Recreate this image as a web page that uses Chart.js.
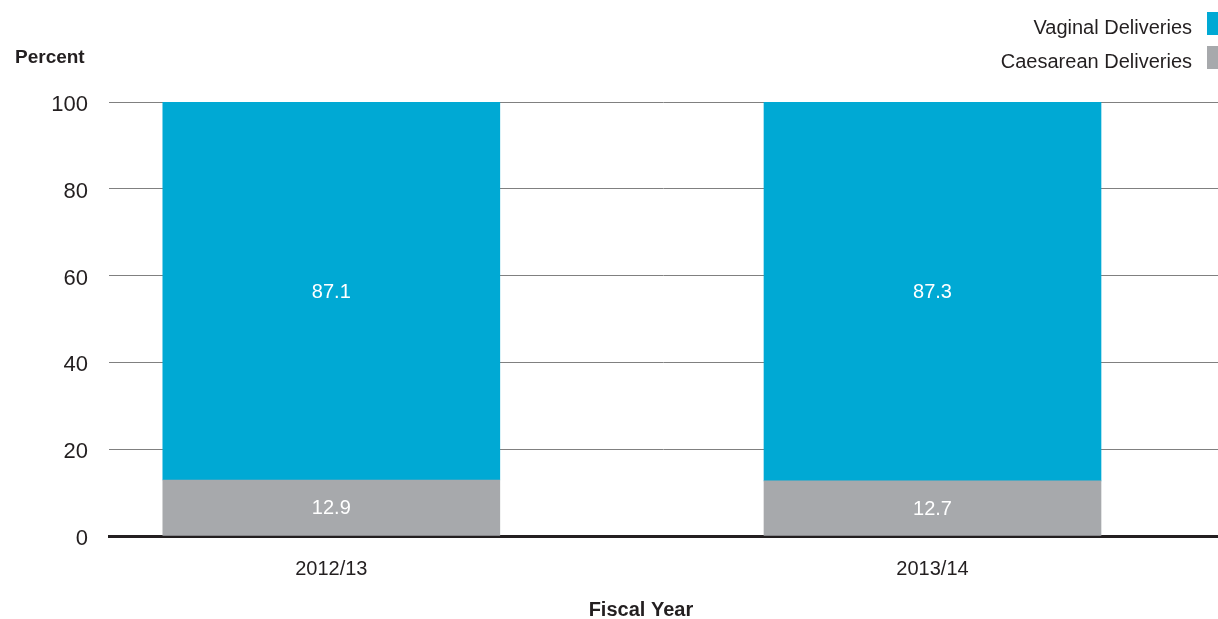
<!DOCTYPE html>
<html>
<head>
<meta charset="utf-8">
<script src="https://cdn.jsdelivr.net/npm/chart.js@4/dist/chart.umd.min.js"></script>
<style>
  html, body { margin: 0; padding: 0; background: #fff; }
  #wrap { width: 1218px; height: 619px; position: relative; }
</style>
</head>
<body>
<div id="wrap"><canvas id="c"></canvas></div>
<script>
// ---- data ----
const categories = ['2012/13', '2013/14'];
const caesarean = [12.9, 12.7];
const vaginal = [87.1, 87.3];
const yTicks = [0, 20, 40, 60, 80, 100];
const seriesNames = ['Vaginal Deliveries', 'Caesarean Deliveries'];
const yTitle = 'Percent';
const xTitle = 'Fiscal Year';

const FONT = "'Liberation Sans', Arial, Helvetica, sans-serif";
const BLUE = '#00a9d4';
const GREY = '#a7a9ac';

const toPoints = arr => arr.map((v, i) => ({ x: i, y: v }));

const labelPlugin = {
  id: 'segLabels',
  afterDatasetsDraw(chart) {
    const ctx = chart.ctx;
    ctx.save();
    ctx.fillStyle = '#ffffff';
    ctx.font = '20px ' + FONT;
    ctx.textAlign = 'center';
    ctx.textBaseline = 'middle';
    chart.data.datasets.forEach((ds, di) => {
      const meta = chart.getDatasetMeta(di);
      meta.data.forEach((el, i) => {
        const v = ds.data[i].y;
        ctx.fillText(v.toFixed(1), el.x, (el.y + el.base) / 2 + 1);
      });
    });
    ctx.restore();
  }
};

const decorPlugin = {
  id: 'decor',
  afterDraw(chart) {
    const ctx = chart.ctx;
    ctx.save();
    // y title
    ctx.fillStyle = '#231f20';
    ctx.font = 'bold 19px ' + FONT;
    ctx.textAlign = 'left';
    ctx.textBaseline = 'alphabetic';
    ctx.fillText(yTitle, 15, 63);
    // x title
    ctx.textAlign = 'center';
    ctx.font = 'bold 20px ' + FONT;
    const xs = chart.scales.x;
    const cx = (xs.getPixelForValue(0) + xs.getPixelForValue(1)) / 2 + 9;
    ctx.fillText(xTitle, cx, 616);
    // legend (text left of swatch)
    ctx.font = '20px ' + FONT;
    ctx.textAlign = 'right';
    const colors = [BLUE, GREY];
    const baselines = [34, 68];
    const boxTops = [12, 46];
    seriesNames.forEach((name, i) => {
      ctx.fillStyle = '#231f20';
      ctx.fillText(name, 1192, baselines[i]);
      ctx.fillStyle = colors[i];
      ctx.fillRect(1207, boxTops[i], 11, 23);
    });
    ctx.restore();
  }
};

new Chart(document.getElementById('c'), {
  type: 'bar',
  data: {
    datasets: [
      { label: seriesNames[1], data: toPoints(caesarean), backgroundColor: GREY, barThickness: 337, borderWidth: 0 },
      { label: seriesNames[0], data: toPoints(vaginal), backgroundColor: BLUE, barThickness: 337, borderWidth: 0 }
    ]
  },
  options: {
    responsive: true,
    maintainAspectRatio: false,
    animation: false,
    layout: { padding: { top: 102, right: 0, bottom: 17, left: 0 } },
    plugins: { legend: { display: false }, tooltip: { enabled: false } },
    scales: {
      x: {
        type: 'linear',
        stacked: true,
        offset: false,
        bounds: 'data',
        min: -0.3698,
        max: 1.4749,
        z: 1,
        grid: { display: false, drawTicks: false, offset: false },
        border: { display: true, color: '#231f20', width: 3 },
        afterBuildTicks(scale) { scale.ticks = categories.map((c, i) => ({ value: i })); },
        ticks: {
          padding: 21,
          color: '#231f20',
          font: { family: FONT, size: 20 },
          callback: v => categories[v]
        }
      },
      y: {
        stacked: true,
        min: 0,
        max: 100,
        afterFit(scale) { scale.width = 109; },
        afterBuildTicks(scale) { scale.ticks = yTicks.map(v => ({ value: v })); },
        grid: { color: '#808080', lineWidth: 1, drawTicks: false },
        border: { display: false },
        ticks: {
          padding: 21,
          labelOffset: 3,
          color: '#231f20',
          font: { family: FONT, size: 22 }
        }
      }
    }
  },
  plugins: [labelPlugin, decorPlugin]
});
</script>
</body>
</html>
